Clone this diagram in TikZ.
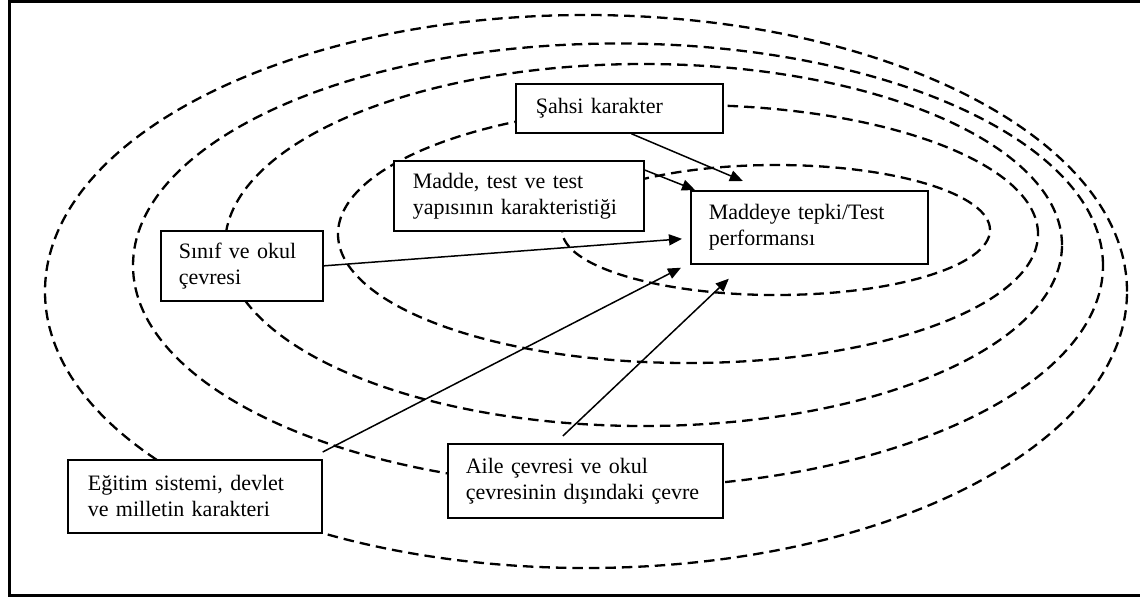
\documentclass[tikz,border=0pt]{standalone}
\usepackage{fontspec}
\setmainfont{Liberation Serif}
\usetikzlibrary{arrows.meta}
\begin{document}
\begin{tikzpicture}[x=1pt,y=-1pt,
  ring/.style={draw=black, line width=2.3pt, dash pattern=on 10.5pt off 6pt},
  box/.style={draw=black, fill=white, line width=1.7pt, anchor=north west, align=left,
              inner ysep=0pt, font=\fontsize{22pt}{26pt}\selectfont},
  arr/.style={draw=black, line width=1.5pt, -{Triangle[length=13pt,width=11pt]}},
  frameline/.style={line width=3pt}]
\useasboundingbox (0,0) rectangle (1140,598);
\fill[white] (0,0) rectangle (1140,598);
\draw[frameline] (1140,1.5) -- (9,1.5) -- (9,595.5) -- (1140,595.5);

% dashed rings
\draw[ring] (586,291.5) ellipse [x radius=541pt, y radius=276.5pt];
\draw[ring] (618,265.5) ellipse [x radius=485pt, y radius=222pt];
\draw[ring] (643.5,245) ellipse [x radius=418.5pt, y radius=181pt];
\draw[ring] (688,234) ellipse [x radius=350pt, y radius=129pt];
\draw[ring] (776,230) ellipse [x radius=214pt, y radius=65pt];

% boxes
\node[box, inner xsep=20pt, text width=167pt, minimum height=49pt] (sahsi) at (515,83) {Şahsi karakter};
\node[box, inner xsep=19pt, text width=212pt, minimum height=70pt] (madde) at (393,160) {Madde, test ve test\\yapısının karakteristiği};
\node[box, inner xsep=18pt, text width=201pt, minimum height=73pt] (tepki) at (690,190) {Maddeye tepki/Test\\performansı};
\node[box, inner xsep=18pt, text width=126pt, minimum height=70pt] (sinif) at (160,230) {Sınıf ve okul\\çevresi};
\node[box, inner xsep=20pt, text width=214pt, minimum height=73pt] (egitim) at (67,459) {Eğitim sistemi, devlet\\ve milletin karakteri};
\node[box, inner xsep=18pt, text width=239pt, minimum height=74pt] (aile) at (447,443) {Aile çevresi ve okul\\çevresinin dışındaki çevre};

% arrows
\draw[arr] ([xshift=12pt]sahsi.south) -- ([xshift=-66.5pt,yshift=9pt]tepki.north);
\draw[arr] ([yshift=-10pt]madde.north east) -- ([xshift=5pt]tepki.north west);
\draw[arr] (sinif.east) -- ([xshift=-8pt,yshift=-11.5pt]tepki.west);
\draw[arr] ([yshift=7pt]egitim.north east) -- ([xshift=-9pt,yshift=-3pt]tepki.south west);
\draw[arr] ([xshift=-22.5pt,yshift=7pt]aile.north) -- ([xshift=-80.5pt,yshift=-14pt]tepki.south);
\end{tikzpicture}
\end{document}
